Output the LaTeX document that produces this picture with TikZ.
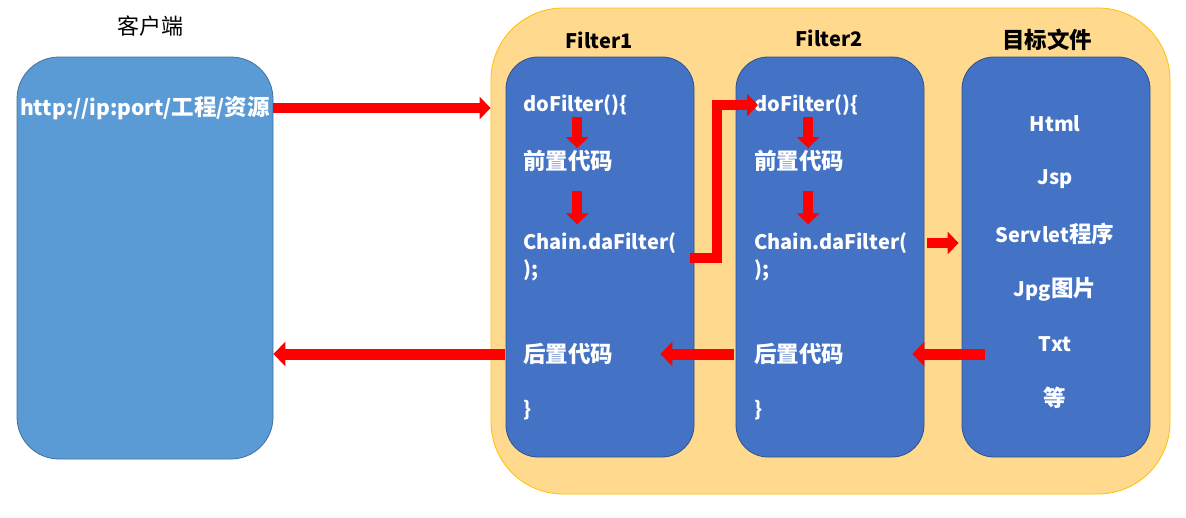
\documentclass[tikz,border=0pt]{standalone}
\usepackage{fontspec}
\setmainfont{Noto Sans CJK SC}
\usepackage{tikz}
\usetikzlibrary{arrows.meta, positioning, calc}

\definecolor{clientblue}{HTML}{5B9BD5}
\definecolor{clientline}{HTML}{41719C}
\definecolor{boxblue}{HTML}{4472C4}
\definecolor{boxline}{HTML}{2F528F}
\definecolor{serverfill}{HTML}{FFD98E}
\definecolor{serverline}{HTML}{FFC000}

% larger size for the Chinese words
\newcommand{\zh}[1]{{\fontsize{22.5}{26}\selectfont #1}}

\tikzset{
  clientbox/.style={rectangle, draw=clientline, fill=clientblue, line width=0.8pt, rounded corners=42pt, inner sep=0pt},
  serverbox/.style={rectangle, draw=serverline, fill=serverfill, line width=0.8pt, rounded corners=72pt, inner sep=0pt},
  filterbox/.style={rectangle, draw=boxline, fill=boxblue, line width=0.8pt, rounded corners=32pt, inner sep=0pt, minimum width=188pt, minimum height=400pt},
  title/.style={inner sep=0pt, font=\fontsize{20}{24}\selectfont\bfseries},
  codeline/.style={anchor=west, inner sep=0pt, text=white, font=\fontsize{20}{24}\selectfont\bfseries},
  fileitem/.style={inner sep=0pt, text=white, font=\fontsize{20}{24}\selectfont\bfseries},
  redarrow/.style={draw=red, line width=10pt, -{Triangle[length=11pt,width=22pt]}},
  backarrow/.style={draw=red, line width=11pt, -{Triangle[length=12pt,width=24pt]}}
}

\begin{document}
\begin{tikzpicture}[x=1pt,y=-1pt]
\useasboundingbox (0,0) rectangle (1186,517);
% boxes
\node[serverbox, minimum width=679pt, minimum height=486pt] (server) at (830.5,251) {};
\node[clientbox, minimum width=256pt, minimum height=402pt] (client) at (145,258) {};
\node[filterbox] (f1box) at (600,257) {};
\node[filterbox] (f2box) at (830,257) {};
\node[filterbox] (tgtbox) at (1056,257) {};
% titles
\node[inner sep=0pt, font=\fontsize{22}{26}\selectfont] (clienttitle) at (150,26) {客户端};
\node[title] (f1title) at (599,40) {Filter1};
\node[title] (f2title) at (829,38) {Filter2};
\node[title] (tgttitle) at (1047,40) {\zh{目标文件}};
% client
\node[inner sep=0pt, text=white, font=\fontsize{21}{26}\selectfont\bfseries] (url) at (145,108) {http://ip:port/\zh{工程}/\zh{资源}};
% Filter1
\node[codeline] (f1do) at (523,105) {doFilter()\{};
\node[codeline] (f1pre) at (523,161) {\zh{前置代码}};
\node[codeline] (f1chain) at (523,243) {Chain.daFilter(};
\node[codeline] (f1semi) at (523,270) {);};
\node[codeline] (f1post) at (523,354) {\zh{后置代码}};
\node[codeline] (f1end) at (523,410) {\}};
% Filter2
\node[codeline] (f2do) at (754,105) {doFilter()\{};
\node[codeline] (f2pre) at (754,161) {\zh{前置代码}};
\node[codeline] (f2chain) at (754,243) {Chain.daFilter(};
\node[codeline] (f2semi) at (754,270) {);};
\node[codeline] (f2post) at (754,354) {\zh{后置代码}};
\node[codeline] (f2end) at (754,410) {\}};
% target files
\node[fileitem] (html) at (1055,124) {Html};
\node[fileitem] (jsp) at (1055,179) {Jsp};
\node[fileitem] (servlet) at (1055,234) {Servlet\zh{程序}};
\node[fileitem] (jpg) at (1055,289) {Jpg\zh{图片}};
\node[fileitem] (txt) at (1055,344) {Txt};
\node[fileitem] (etc) at (1055,398) {\zh{等}};
% request
\draw[redarrow] (client.east |- url) -- (server.west |- url);
\draw[redarrow] ($(f1pre.north)+(9,-33)$) -- ++(0,31);
\draw[redarrow] ($(f1pre.north |- f1chain.north)+(9,-41)$) -- ++(0,33);
\draw[redarrow] ($(f2pre.north)+(9,-33)$) -- ++(0,31);
\draw[redarrow] ($(f2pre.north |- f2chain.north)+(9,-41)$) -- ++(0,33);
\coordinate (bend) at ($(f2box.west)+(-19,0)$);
\draw[redarrow] ($(f1box.east |- f1chain)+(-4,15)$) -| (bend |- f2do) -- ([xshift=4pt]f2do.west);
\draw[redarrow] ([xshift=3pt]f2box.east |- f2chain) -- ([xshift=-3pt]tgtbox.west |- f2chain);
% response
\draw[backarrow] ([xshift=23pt]tgtbox.west |- f2post) -- ([xshift=-12pt]f2box.east |- f2post);
\draw[backarrow] ([xshift=-2pt]f2box.west |- f1post) -- ([xshift=-34pt]f1box.east |- f1post);
\draw[backarrow] ([xshift=-1pt]f1box.west |- f1post) -- (client.east |- f1post);
\end{tikzpicture}
\end{document}
